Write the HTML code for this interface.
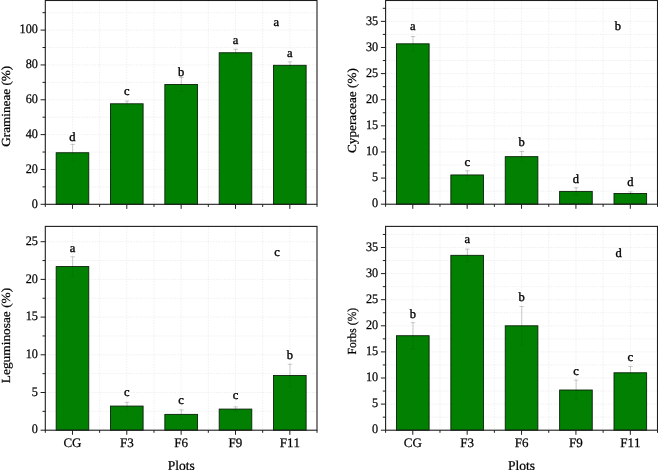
<!DOCTYPE html>
<html lang="en"><head><meta charset="utf-8"><title>Plots</title>
<style>html,body{margin:0;padding:0;background:#fff}body{width:658px;height:470px;overflow:hidden}svg{display:block;will-change:transform;opacity:0.999}text{font-family:'Liberation Serif', 'DejaVu Serif', serif;fill:#000;stroke:#000;stroke-width:0.25px;text-rendering:geometricPrecision;font-kerning:none}.l{stroke-width:0.36px}</style></head><body>
<svg width="658" height="470" viewBox="0 0 658 470">
<g>
<path d="M45.30 169.46H317.00M45.30 134.62H317.00M45.30 99.78H317.00M45.30 64.94H317.00M45.30 30.10H317.00M45.30 186.88H317.00M45.30 152.04H317.00M45.30 117.20H317.00M45.30 82.36H317.00M45.30 47.52H317.00M45.30 12.68H317.00M72.47 0.50V204.30M99.64 0.50V204.30M126.81 0.50V204.30M153.98 0.50V204.30M181.15 0.50V204.30M208.32 0.50V204.30M235.49 0.50V204.30M262.66 0.50V204.30M289.83 0.50V204.30" stroke="#e6e6e6" stroke-width="0.6" stroke-dasharray="1.5 1.25" fill="none"/>
<rect x="56.17" y="152.74" width="32.60" height="51.56" fill="#008000" stroke="#0a220a" stroke-width="0.9"/>
<rect x="110.51" y="103.79" width="32.60" height="100.51" fill="#008000" stroke="#0a220a" stroke-width="0.9"/>
<rect x="164.85" y="84.45" width="32.60" height="119.85" fill="#008000" stroke="#0a220a" stroke-width="0.9"/>
<rect x="219.19" y="52.75" width="32.60" height="151.55" fill="#008000" stroke="#0a220a" stroke-width="0.9"/>
<rect x="273.53" y="65.29" width="32.60" height="139.01" fill="#008000" stroke="#0a220a" stroke-width="0.9"/>
<path d="M72.67 144.38V152.74M70.37 144.38H74.97M127.01 101.17V103.79M124.71 101.17H129.31M181.35 77.48V84.45M179.05 77.48H183.65M235.69 49.26V52.75M233.39 49.26H237.99M290.03 61.80V65.29M287.73 61.80H292.33" stroke="#000" stroke-opacity="0.33" stroke-width="0.6" fill="none"/>
<path d="M72.67 152.74V161.10M70.37 161.10H74.97M127.01 103.79V106.40M124.71 106.40H129.31M181.35 84.45V91.42M179.05 91.42H183.65M235.69 52.75V56.23M233.39 56.23H237.99M290.03 65.29V68.77M287.73 68.77H292.33" stroke="#000" stroke-opacity="0.13" stroke-width="0.5" fill="none"/>
<rect x="45.30" y="0.50" width="271.70" height="203.80" fill="none" stroke="#1e1e1e" stroke-width="1.1"/>
<path d="M45.30 204.30H40.60M45.30 169.46H40.60M45.30 134.62H40.60M45.30 99.78H40.60M45.30 64.94H40.60M45.30 30.10H40.60M45.30 186.88H42.50M45.30 152.04H42.50M45.30 117.20H42.50M45.30 82.36H42.50M45.30 47.52H42.50M45.30 12.68H42.50M72.47 204.30V208.90M126.81 204.30V208.90M181.15 204.30V208.90M235.49 204.30V208.90M289.83 204.30V208.90M45.30 204.30V206.90M99.64 204.30V206.90M153.98 204.30V206.90M208.32 204.30V206.90M262.66 204.30V206.90M317.00 204.30V206.90" stroke="#1e1e1e" stroke-width="1.0" fill="none"/>
<text transform="translate(37.90 207.50) scale(0.94 1)" font-size="13.0" text-anchor="end">0</text>
<text transform="translate(37.90 172.66) scale(0.94 1)" font-size="13.0" text-anchor="end">20</text>
<text transform="translate(37.90 137.82) scale(0.94 1)" font-size="13.0" text-anchor="end">40</text>
<text transform="translate(37.90 102.98) scale(0.94 1)" font-size="13.0" text-anchor="end">60</text>
<text transform="translate(37.90 68.14) scale(0.94 1)" font-size="13.0" text-anchor="end">80</text>
<text transform="translate(37.90 33.30) scale(0.94 1)" font-size="13.0" text-anchor="end">100</text>
<text transform="translate(9.70 106.30) rotate(-90) scale(1.015 0.95)" font-size="13.0" text-anchor="middle">Gramineae (%)</text>
<text class="l" x="72.47" y="141.00" font-size="12.5" text-anchor="middle">d</text>
<text class="l" x="126.81" y="95.00" font-size="12.5" text-anchor="middle">c</text>
<text class="l" x="181.15" y="75.80" font-size="12.5" text-anchor="middle">b</text>
<text class="l" x="235.49" y="43.90" font-size="12.5" text-anchor="middle">a</text>
<text class="l" x="289.83" y="56.70" font-size="12.5" text-anchor="middle">a</text>
<text class="l" x="276.30" y="25.70" font-size="12.5" text-anchor="middle">a</text>
</g>
<g>
<path d="M45.30 392.50H317.00M45.30 354.80H317.00M45.30 317.10H317.00M45.30 279.40H317.00M45.30 241.70H317.00M45.30 411.35H317.00M45.30 373.65H317.00M45.30 335.95H317.00M45.30 298.25H317.00M45.30 260.55H317.00M72.47 226.40V430.20M99.64 226.40V430.20M126.81 226.40V430.20M153.98 226.40V430.20M181.15 226.40V430.20M208.32 226.40V430.20M235.49 226.40V430.20M262.66 226.40V430.20M289.83 226.40V430.20" stroke="#e6e6e6" stroke-width="0.6" stroke-dasharray="1.5 1.25" fill="none"/>
<rect x="56.17" y="266.58" width="32.60" height="163.62" fill="#008000" stroke="#0a220a" stroke-width="0.9"/>
<rect x="110.51" y="406.07" width="32.60" height="24.13" fill="#008000" stroke="#0a220a" stroke-width="0.9"/>
<rect x="164.85" y="414.37" width="32.60" height="15.83" fill="#008000" stroke="#0a220a" stroke-width="0.9"/>
<rect x="219.19" y="409.09" width="32.60" height="21.11" fill="#008000" stroke="#0a220a" stroke-width="0.9"/>
<rect x="273.53" y="375.53" width="32.60" height="54.67" fill="#008000" stroke="#0a220a" stroke-width="0.9"/>
<path d="M72.67 256.78V266.58M70.37 256.78H74.97M127.01 402.30V406.07M124.71 402.30H129.31M181.35 409.84V414.37M179.05 409.84H183.65M235.69 406.83V409.09M233.39 406.83H237.99M290.03 364.23V375.53M287.73 364.23H292.33" stroke="#000" stroke-opacity="0.33" stroke-width="0.6" fill="none"/>
<path d="M72.67 266.58V276.38M70.37 276.38H74.97M127.01 406.07V409.84M124.71 409.84H129.31M181.35 414.37V418.89M179.05 418.89H183.65M235.69 409.09V411.35M233.39 411.35H237.99M290.03 375.53V386.84M287.73 386.84H292.33" stroke="#000" stroke-opacity="0.13" stroke-width="0.5" fill="none"/>
<rect x="45.30" y="226.40" width="271.70" height="203.80" fill="none" stroke="#1e1e1e" stroke-width="1.1"/>
<path d="M45.30 430.20H40.60M45.30 392.50H40.60M45.30 354.80H40.60M45.30 317.10H40.60M45.30 279.40H40.60M45.30 241.70H40.60M45.30 411.35H42.50M45.30 373.65H42.50M45.30 335.95H42.50M45.30 298.25H42.50M45.30 260.55H42.50M72.47 430.20V434.80M126.81 430.20V434.80M181.15 430.20V434.80M235.49 430.20V434.80M289.83 430.20V434.80M45.30 430.20V432.80M99.64 430.20V432.80M153.98 430.20V432.80M208.32 430.20V432.80M262.66 430.20V432.80M317.00 430.20V432.80" stroke="#1e1e1e" stroke-width="1.0" fill="none"/>
<text transform="translate(37.90 433.40) scale(0.94 1)" font-size="13.0" text-anchor="end">0</text>
<text transform="translate(37.90 395.70) scale(0.94 1)" font-size="13.0" text-anchor="end">5</text>
<text transform="translate(37.90 358.00) scale(0.94 1)" font-size="13.0" text-anchor="end">10</text>
<text transform="translate(37.90 320.30) scale(0.94 1)" font-size="13.0" text-anchor="end">15</text>
<text transform="translate(37.90 282.60) scale(0.94 1)" font-size="13.0" text-anchor="end">20</text>
<text transform="translate(37.90 244.90) scale(0.94 1)" font-size="13.0" text-anchor="end">25</text>
<text x="72.47" y="447.00" font-size="13.0" text-anchor="middle">CG</text>
<text x="126.81" y="447.00" font-size="13.0" text-anchor="middle">F3</text>
<text x="181.15" y="447.00" font-size="13.0" text-anchor="middle">F6</text>
<text x="235.49" y="447.00" font-size="13.0" text-anchor="middle">F9</text>
<text x="289.83" y="447.00" font-size="13.0" text-anchor="middle">F11</text>
<text x="181.15" y="469.60" font-size="13.5" text-anchor="middle">Plots</text>
<text transform="translate(10.40 335.50) rotate(-90) scale(1.028 0.95)" font-size="13.0" text-anchor="middle">Leguminosae (%)</text>
<text class="l" x="72.47" y="251.60" font-size="12.5" text-anchor="middle">a</text>
<text class="l" x="126.81" y="395.70" font-size="12.5" text-anchor="middle">c</text>
<text class="l" x="181.15" y="403.80" font-size="12.5" text-anchor="middle">c</text>
<text class="l" x="235.49" y="399.30" font-size="12.5" text-anchor="middle">c</text>
<text class="l" x="289.83" y="358.50" font-size="12.5" text-anchor="middle">b</text>
<text class="l" x="277.00" y="255.80" font-size="12.5" text-anchor="middle">c</text>
</g>
<g>
<path d="M385.60 178.08H657.50M385.60 151.96H657.50M385.60 125.84H657.50M385.60 99.72H657.50M385.60 73.60H657.50M385.60 47.48H657.50M385.60 21.36H657.50M385.60 191.14H657.50M385.60 165.02H657.50M385.60 138.90H657.50M385.60 112.78H657.50M385.60 86.66H657.50M385.60 60.54H657.50M385.60 34.42H657.50M385.60 8.30H657.50M412.79 0.50V204.20M439.98 0.50V204.20M467.17 0.50V204.20M494.36 0.50V204.20M521.55 0.50V204.20M548.74 0.50V204.20M575.93 0.50V204.20M603.12 0.50V204.20M630.31 0.50V204.20" stroke="#e6e6e6" stroke-width="0.6" stroke-dasharray="1.5 1.25" fill="none"/>
<rect x="396.48" y="43.82" width="32.63" height="160.38" fill="#008000" stroke="#0a220a" stroke-width="0.9"/>
<rect x="450.86" y="174.95" width="32.63" height="29.25" fill="#008000" stroke="#0a220a" stroke-width="0.9"/>
<rect x="505.24" y="156.66" width="32.63" height="47.54" fill="#008000" stroke="#0a220a" stroke-width="0.9"/>
<rect x="559.62" y="191.40" width="32.63" height="12.80" fill="#008000" stroke="#0a220a" stroke-width="0.9"/>
<rect x="614.00" y="193.49" width="32.63" height="10.71" fill="#008000" stroke="#0a220a" stroke-width="0.9"/>
<path d="M412.99 36.51V43.82M410.69 36.51H415.29M467.37 170.77V174.95M465.07 170.77H469.67M521.75 151.44V156.66M519.45 151.44H524.05M576.13 187.74V191.40M573.83 187.74H578.43M630.51 191.92V193.49M628.21 191.92H632.81" stroke="#000" stroke-opacity="0.33" stroke-width="0.6" fill="none"/>
<path d="M412.99 43.82V51.14M410.69 51.14H415.29M467.37 174.95V179.12M465.07 179.12H469.67M521.75 156.66V161.89M519.45 161.89H524.05M576.13 191.40V195.06M573.83 195.06H578.43M630.51 193.49V195.06M628.21 195.06H632.81" stroke="#000" stroke-opacity="0.13" stroke-width="0.5" fill="none"/>
<rect x="385.60" y="0.50" width="271.90" height="203.70" fill="none" stroke="#1e1e1e" stroke-width="1.1"/>
<path d="M385.60 204.20H380.90M385.60 178.08H380.90M385.60 151.96H380.90M385.60 125.84H380.90M385.60 99.72H380.90M385.60 73.60H380.90M385.60 47.48H380.90M385.60 21.36H380.90M385.60 191.14H382.80M385.60 165.02H382.80M385.60 138.90H382.80M385.60 112.78H382.80M385.60 86.66H382.80M385.60 60.54H382.80M385.60 34.42H382.80M385.60 8.30H382.80M412.79 204.20V208.80M467.17 204.20V208.80M521.55 204.20V208.80M575.93 204.20V208.80M630.31 204.20V208.80M385.60 204.20V206.80M439.98 204.20V206.80M494.36 204.20V206.80M548.74 204.20V206.80M603.12 204.20V206.80M657.50 204.20V206.80" stroke="#1e1e1e" stroke-width="1.0" fill="none"/>
<text transform="translate(378.20 207.40) scale(0.94 1)" font-size="13.0" text-anchor="end">0</text>
<text transform="translate(378.20 181.28) scale(0.94 1)" font-size="13.0" text-anchor="end">5</text>
<text transform="translate(378.20 155.16) scale(0.94 1)" font-size="13.0" text-anchor="end">10</text>
<text transform="translate(378.20 129.04) scale(0.94 1)" font-size="13.0" text-anchor="end">15</text>
<text transform="translate(378.20 102.92) scale(0.94 1)" font-size="13.0" text-anchor="end">20</text>
<text transform="translate(378.20 76.80) scale(0.94 1)" font-size="13.0" text-anchor="end">25</text>
<text transform="translate(378.20 50.68) scale(0.94 1)" font-size="13.0" text-anchor="end">30</text>
<text transform="translate(378.20 24.56) scale(0.94 1)" font-size="13.0" text-anchor="end">35</text>
<text transform="translate(356.30 110.60) rotate(-90) scale(1.017 0.95)" font-size="13.0" text-anchor="middle">Cyperaceae (%)</text>
<text class="l" x="412.79" y="30.10" font-size="12.5" text-anchor="middle">a</text>
<text class="l" x="467.17" y="165.70" font-size="12.5" text-anchor="middle">c</text>
<text class="l" x="521.55" y="146.30" font-size="12.5" text-anchor="middle">b</text>
<text class="l" x="575.93" y="182.60" font-size="12.5" text-anchor="middle">d</text>
<text class="l" x="630.31" y="185.90" font-size="12.5" text-anchor="middle">d</text>
<text class="l" x="617.90" y="30.20" font-size="12.5" text-anchor="middle">b</text>
</g>
<g>
<path d="M385.60 404.10H657.50M385.60 378.00H657.50M385.60 351.90H657.50M385.60 325.80H657.50M385.60 299.70H657.50M385.60 273.60H657.50M385.60 247.50H657.50M385.60 417.15H657.50M385.60 391.05H657.50M385.60 364.95H657.50M385.60 338.85H657.50M385.60 312.75H657.50M385.60 286.65H657.50M385.60 260.55H657.50M385.60 234.45H657.50M412.79 226.40V430.20M439.98 226.40V430.20M467.17 226.40V430.20M494.36 226.40V430.20M521.55 226.40V430.20M548.74 226.40V430.20M575.93 226.40V430.20M603.12 226.40V430.20M630.31 226.40V430.20" stroke="#e6e6e6" stroke-width="0.6" stroke-dasharray="1.5 1.25" fill="none"/>
<rect x="396.48" y="335.72" width="32.63" height="94.48" fill="#008000" stroke="#0a220a" stroke-width="0.9"/>
<rect x="450.86" y="255.33" width="32.63" height="174.87" fill="#008000" stroke="#0a220a" stroke-width="0.9"/>
<rect x="505.24" y="325.80" width="32.63" height="104.40" fill="#008000" stroke="#0a220a" stroke-width="0.9"/>
<rect x="559.62" y="390.01" width="32.63" height="40.19" fill="#008000" stroke="#0a220a" stroke-width="0.9"/>
<rect x="614.00" y="372.78" width="32.63" height="57.42" fill="#008000" stroke="#0a220a" stroke-width="0.9"/>
<path d="M412.99 322.67V335.72M410.69 322.67H415.29M467.37 249.07V255.33M465.07 249.07H469.67M521.75 306.49V325.80M519.45 306.49H524.05M576.13 380.09V390.01M573.83 380.09H578.43M630.51 366.52V372.78M628.21 366.52H632.81" stroke="#000" stroke-opacity="0.33" stroke-width="0.6" fill="none"/>
<path d="M412.99 335.72V348.77M410.69 348.77H415.29M467.37 255.33V261.59M465.07 261.59H469.67M521.75 325.80V345.11M519.45 345.11H524.05M576.13 390.01V399.92M573.83 399.92H578.43M630.51 372.78V379.04M628.21 379.04H632.81" stroke="#000" stroke-opacity="0.13" stroke-width="0.5" fill="none"/>
<rect x="385.60" y="226.40" width="271.90" height="203.80" fill="none" stroke="#1e1e1e" stroke-width="1.1"/>
<path d="M385.60 430.20H380.90M385.60 404.10H380.90M385.60 378.00H380.90M385.60 351.90H380.90M385.60 325.80H380.90M385.60 299.70H380.90M385.60 273.60H380.90M385.60 247.50H380.90M385.60 417.15H382.80M385.60 391.05H382.80M385.60 364.95H382.80M385.60 338.85H382.80M385.60 312.75H382.80M385.60 286.65H382.80M385.60 260.55H382.80M385.60 234.45H382.80M412.79 430.20V434.80M467.17 430.20V434.80M521.55 430.20V434.80M575.93 430.20V434.80M630.31 430.20V434.80M385.60 430.20V432.80M439.98 430.20V432.80M494.36 430.20V432.80M548.74 430.20V432.80M603.12 430.20V432.80M657.50 430.20V432.80" stroke="#1e1e1e" stroke-width="1.0" fill="none"/>
<text transform="translate(378.20 433.40) scale(0.94 1)" font-size="13.0" text-anchor="end">0</text>
<text transform="translate(378.20 407.30) scale(0.94 1)" font-size="13.0" text-anchor="end">5</text>
<text transform="translate(378.20 381.20) scale(0.94 1)" font-size="13.0" text-anchor="end">10</text>
<text transform="translate(378.20 355.10) scale(0.94 1)" font-size="13.0" text-anchor="end">15</text>
<text transform="translate(378.20 329.00) scale(0.94 1)" font-size="13.0" text-anchor="end">20</text>
<text transform="translate(378.20 302.90) scale(0.94 1)" font-size="13.0" text-anchor="end">25</text>
<text transform="translate(378.20 276.80) scale(0.94 1)" font-size="13.0" text-anchor="end">30</text>
<text transform="translate(378.20 250.70) scale(0.94 1)" font-size="13.0" text-anchor="end">35</text>
<text x="412.79" y="447.00" font-size="13.0" text-anchor="middle">CG</text>
<text x="467.17" y="447.00" font-size="13.0" text-anchor="middle">F3</text>
<text x="521.55" y="447.00" font-size="13.0" text-anchor="middle">F6</text>
<text x="575.93" y="447.00" font-size="13.0" text-anchor="middle">F9</text>
<text x="630.31" y="447.00" font-size="13.0" text-anchor="middle">F11</text>
<text x="521.55" y="469.60" font-size="13.5" text-anchor="middle">Plots</text>
<text transform="translate(356.30 331.20) rotate(-90) scale(0.893 0.95)" font-size="13.0" text-anchor="middle">Forbs (%)</text>
<text class="l" x="412.79" y="317.50" font-size="12.5" text-anchor="middle">b</text>
<text class="l" x="467.17" y="243.20" font-size="12.5" text-anchor="middle">a</text>
<text class="l" x="521.55" y="301.30" font-size="12.5" text-anchor="middle">b</text>
<text class="l" x="575.93" y="374.70" font-size="12.5" text-anchor="middle">c</text>
<text class="l" x="630.31" y="361.00" font-size="12.5" text-anchor="middle">c</text>
<text class="l" x="618.70" y="256.70" font-size="12.5" text-anchor="middle">d</text>
</g>
</svg></body></html>
